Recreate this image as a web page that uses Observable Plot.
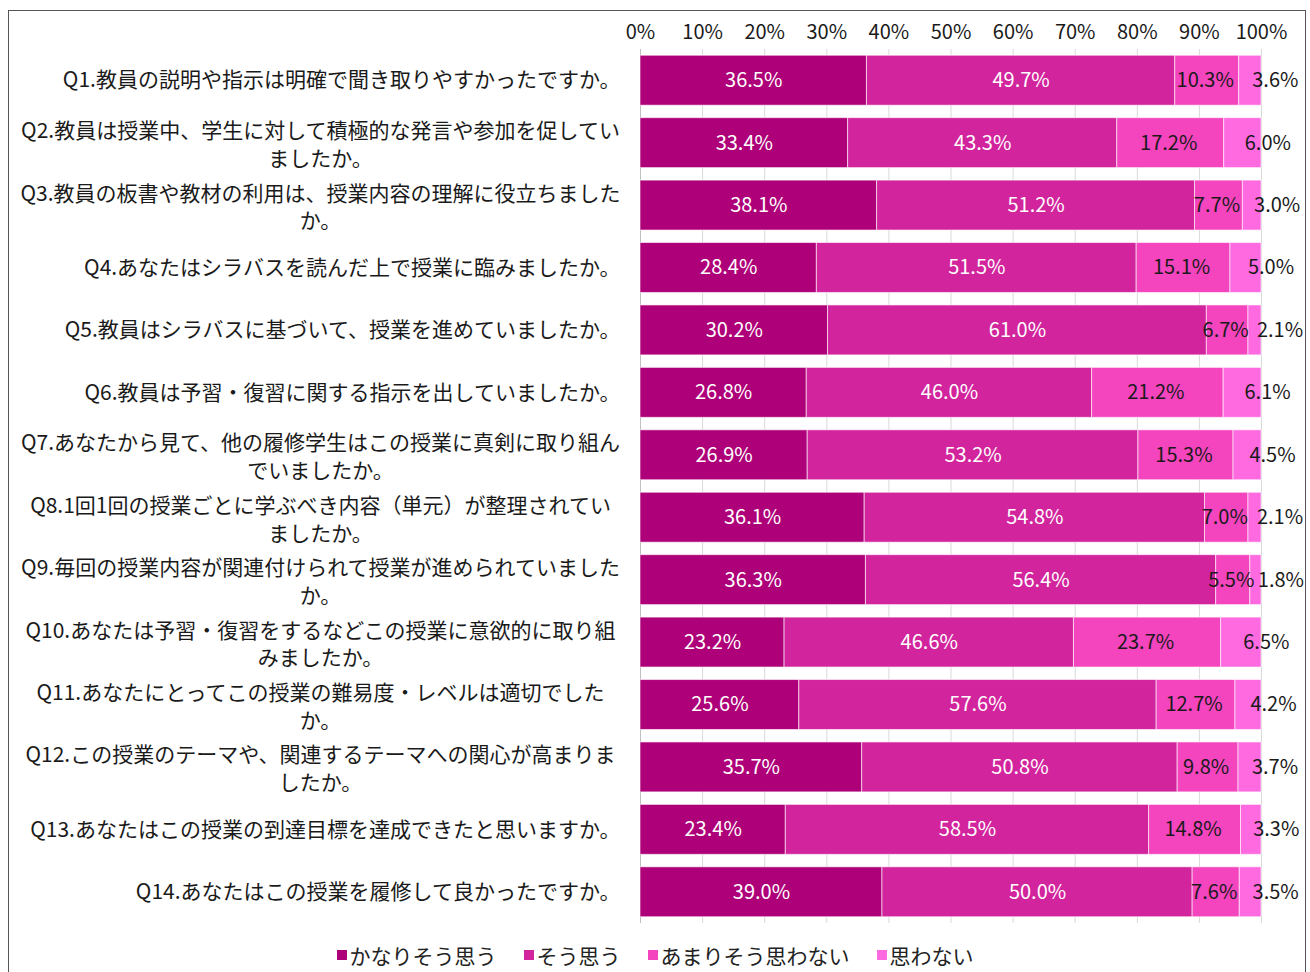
<!DOCTYPE html>
<html><head><meta charset="utf-8">
<script src="https://cdn.jsdelivr.net/npm/d3@7"></script>
<script src="https://cdn.jsdelivr.net/npm/@observablehq/plot@0.6"></script>
<style>
body{margin:0;background:#fff;font-family:"Noto Sans CJK JP",sans-serif;}
#wrap{position:relative;width:1310px;height:972px;overflow:hidden;}
#frame{position:absolute;left:8px;top:10px;width:1296px;height:980px;border:1px solid #555;pointer-events:none;}
#chart{position:absolute;left:0;top:0;}
#legend{position:absolute;left:0;top:940px;width:1310px;display:flex;justify-content:center;gap:27px;font-size:21px;color:#222;line-height:30px;}
#legend span.item{display:flex;align-items:center;}
#legend span.sw{display:inline-block;width:10px;height:10px;margin-right:3px;}
</style></head>
<body><div id="wrap"><div id="chart"></div><div id="legend"></div><div id="frame"></div></div>
<script>
const questions = [
 "Q1.教員の説明や指示は明確で聞き取りやすかったですか。",
 "Q2.教員は授業中、学生に対して積極的な発言や参加を促してい\nましたか。",
 "Q3.教員の板書や教材の利用は、授業内容の理解に役立ちました\nか。",
 "Q4.あなたはシラバスを読んだ上で授業に臨みましたか。",
 "Q5.教員はシラバスに基づいて、授業を進めていましたか。",
 "Q6.教員は予習・復習に関する指示を出していましたか。",
 "Q7.あなたから見て、他の履修学生はこの授業に真剣に取り組ん\nでいましたか。",
 "Q8.1回1回の授業ごとに学ぶべき内容（単元）が整理されてい\nましたか。",
 "Q9.毎回の授業内容が関連付けられて授業が進められていました\nか。",
 "Q10.あなたは予習・復習をするなどこの授業に意欲的に取り組\nみましたか。",
 "Q11.あなたにとってこの授業の難易度・レベルは適切でした\nか。",
 "Q12.この授業のテーマや、関連するテーマへの関心が高まりま\nしたか。",
 "Q13.あなたはこの授業の到達目標を達成できたと思いますか。",
 "Q14.あなたはこの授業を履修して良かったですか。"
];
const categories = ["かなりそう思う","そう思う","あまりそう思わない","思わない"];
const stronglyAgree = [36.5,33.4,38.1,28.4,30.2,26.8,26.9,36.1,36.3,23.2,25.6,35.7,23.4,39.0];
const agree         = [49.7,43.3,51.2,51.5,61.0,46.0,53.2,54.8,56.4,46.6,57.6,50.8,58.5,50.0];
const disagree      = [10.3,17.2,7.7,15.1,6.7,21.2,15.3,7.0,5.5,23.7,12.7,9.8,14.8,7.6];
const stronglyDis   = [3.6,6.0,3.0,5.0,2.1,6.1,4.5,2.1,1.8,6.5,4.2,3.7,3.3,3.5];
const xTicks = [0,0.1,0.2,0.3,0.4,0.5,0.6,0.7,0.8,0.9,1];
const colors = ["#AE0078","#D2249D","#F444BE","#FF6AE1"];

const series = [stronglyAgree, agree, disagree, stronglyDis];
const data = questions.flatMap((q,i) => categories.map((c,j) => ({q, c, j, v: series[j][i]})));
const fmt = v => v.toFixed(1) + "%";
const font = '"Noto Sans CJK JP", sans-serif';

const stackOpts = extra => Plot.stackX({offset:"normalize", x:"v", y:"q", ...extra});

const chart = Plot.plot({
  width:1310, height:930,
  marginLeft:640, marginRight:49, marginTop:49, marginBottom:7,
  style:{fontFamily:font, fontSize:"20px", color:"#1a1a1a", background:"transparent"},
  x:{domain:[0,1], axis:"top", ticks:xTicks, tickFormat:d=>Math.round(d*100)+"%", tickSize:0, tickPadding:11, label:null},
  y:{domain:questions, axis:null, paddingInner:0.2, paddingOuter:0.1, round:false},
  color:{domain:categories, range:colors},
  marks:[
    Plot.ruleX(xTicks, {stroke:"#d9d9d9"}),
    Plot.ruleX([0], {stroke:"#c0c0c0"}),
    Plot.barX(data, stackOpts({fill:"c", stroke:"white", strokeOpacity:0.6, strokeWidth:1})),
    Plot.text(data, stackOpts({text:d=>d.j<2?fmt(d.v):null, fill:"white", fontSize:20})),
    Plot.text(data, stackOpts({text:d=>d.j===2?fmt(d.v):null, fill:"#1a1a1a", fontSize:20, dx:-2})),
    Plot.text(data, stackOpts({text:d=>d.j===3?fmt(d.v):null, fill:"#1a1a1a", fontSize:20, dx:25})),
    Plot.text(questions.filter(q=>!q.includes("\n")), {y:d=>d, text:d=>d, frameAnchor:"left", textAnchor:"end", dx:-20, fontSize:21, fill:"#1a1a1a"}),
    Plot.text(questions.filter(q=>q.includes("\n")), {y:d=>d, text:d=>d, frameAnchor:"left", textAnchor:"middle", dx:-320, fontSize:21, lineHeight:1.33, fill:"#1a1a1a"})
  ]
});
document.getElementById("chart").appendChild(chart);

const legend = document.getElementById("legend");
categories.forEach((c,i)=>{
  const it = document.createElement("span"); it.className="item";
  const sw = document.createElement("span"); sw.className="sw"; sw.style.background=colors[i];
  it.appendChild(sw); it.appendChild(document.createTextNode(c));
  legend.appendChild(it);
});
</script>
</body></html>
